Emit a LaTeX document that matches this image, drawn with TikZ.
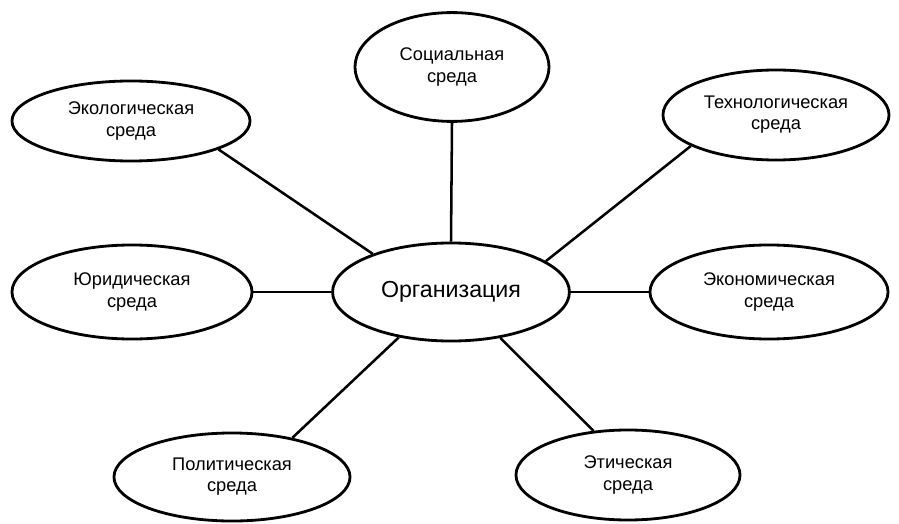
\documentclass[tikz,border=0pt]{standalone}
\usepackage{fontspec}
\setmainfont{Liberation Sans}
\usetikzlibrary{shapes.geometric}

\begin{document}
\begin{tikzpicture}[x=0.025cm, y=-0.025cm,
    env/.style={ellipse, draw, line width=2pt, inner sep=0pt, align=center,
        font=\fontsize{13}{15}\selectfont},
    link/.style={line width=1.8pt}]
    \useasboundingbox (0,0) rectangle (899,524);

    % Centre
    \node[env, minimum width=5.92cm, minimum height=2.45cm,
        font=\fontsize{16.5}{19}\selectfont] (org) at (451,292) {Организация};

    % Environments around it
    \node[env, minimum width=5.95cm, minimum height=2.0cm] (eco) at (131,121) {Экологическая\\среда};
    \node[env, minimum width=4.85cm, minimum height=2.72cm] (soc) at (452,67) {Социальная\\среда};
    \node[env, minimum width=5.65cm, minimum height=2.25cm] (tech) at (776,115) {Технологическая\\среда};
    \node[env, minimum width=6.0cm, minimum height=2.35cm] (jur) at (132,292) {Юридическая\\среда};
    \node[env, minimum width=5.95cm, minimum height=2.35cm] (econ) at (769,292) {Экономическая\\среда};
    \node[env, minimum width=5.9cm, minimum height=2.2cm] (pol) at (232,477) {Политическая\\среда};
    \node[env, minimum width=5.6cm, minimum height=2.25cm] (eth) at (628,475) {Этическая\\среда};

    % Links
    \draw[link] (eco.-18) -- (org.154);
    \draw[link] (soc.south) -- (org.north);
    \draw[link] (tech.200) -- (org.18);
    \draw[link] (jur.east) -- (org.west);
    \draw[link] (econ.west) -- (org.east);
    \draw[link] (pol.33) -- (org.221);
    \draw[link] (eth.128) -- (org.317);
\end{tikzpicture}
\end{document}
